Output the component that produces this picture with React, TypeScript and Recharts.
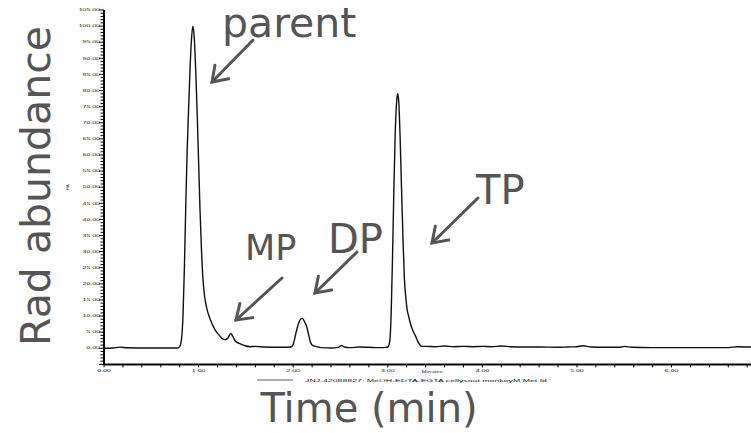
import { LineChart, Line, XAxis, YAxis } from 'recharts'

// retention time (min) and radio signal (% of max)
const times = [
  0, 0.1, 0.17, 0.24, 0.35, 0.5, 0.65, 0.78,
  0.8, 0.82, 0.835, 0.85, 0.865, 0.88, 0.895, 0.91, 0.925, 0.94, 0.955, 0.97, 0.985,
  1.0, 1.015, 1.03, 1.045, 1.06, 1.075, 1.09, 1.11, 1.13, 1.16, 1.19, 1.22, 1.25, 1.28,
  1.31, 1.34, 1.36, 1.39, 1.43, 1.48, 1.54, 1.6, 1.7, 1.8, 1.9, 1.976,
  2.0, 2.028, 2.06, 2.08, 2.098, 2.12, 2.14, 2.16, 2.18, 2.2, 2.25, 2.3, 2.4, 2.48, 2.51,
  2.54, 2.6, 2.7, 2.8, 2.9, 2.98,
  3.0, 3.02, 3.035, 3.05, 3.065, 3.08, 3.095, 3.105, 3.115, 3.13, 3.145, 3.16, 3.175,
  3.19, 3.205, 3.22, 3.24, 3.265, 3.29, 3.32, 3.36, 3.4, 3.5, 3.6, 3.7, 3.8, 3.9,
  4.0, 4.1, 4.2, 4.3, 4.4, 4.6, 4.8, 4.9, 5.0, 5.06, 5.15, 5.3, 5.45, 5.5, 5.58,
  5.8, 6.0, 6.3, 6.6, 6.7, 6.84,
]
const signal = [
  0, 0.1, 0.35, 0.15, 0.1, 0.1, 0.1, 0.1,
  0.5, 3, 10, 25, 45, 62, 75, 87, 96, 100, 96, 86, 73,
  58, 43, 31, 22, 17, 14, 12, 10, 8.5, 6.5, 5, 4, 3, 2.7,
  3.2, 4.6, 3.8, 2.2, 1.5, 0.9, 0.5, 0.6, 0.4, 0.3, 0.3, 0.4,
  1.2, 4.6, 8, 9.1, 9.3, 8.2, 7, 4.6, 2.2, 1, 0.5, 0.2, 0.1, 0.3, 0.9,
  0.4, 0.2, 0.4, 0.3, 0.2, 0.3,
  0.4, 2, 10, 28, 50, 68, 77, 79, 77, 66, 50, 35, 22,
  16, 12, 10, 7.6, 5.5, 4, 2, 0.6, 0.6, 0.5, 0.7, 0.5, 0.6, 0.5,
  0.6, 0.5, 0.7, 0.5, 0.4, 0.4, 0.3, 0.4, 0.5, 0.8, 0.4, 0.3, 0.3, 0.6, 0.3,
  0.2, 0.2, 0.2, 0.2, 0.5, 0.4,
]

const xTicks = Array.from({ length: 35 }, (_, i) => Math.round(i * 2) / 10)
const yTicks = Array.from({ length: 111 }, (_, i) => i - 5)

const peakLabels = [
  { text: 'parent', x: 222, y: 37, size: 41 },
  { text: 'MP', x: 245, y: 260, size: 35 },
  { text: 'DP', x: 328, y: 253, size: 40 },
  { text: 'TP', x: 476, y: 204, size: 40 },
]
const arrows = [
  { x1: 253, y1: 40, x2: 212, y2: 82 },
  { x1: 282, y1: 278, x2: 236, y2: 320 },
  { x1: 357, y1: 252, x2: 315, y2: 293 },
  { x1: 478, y1: 198, x2: 432, y2: 243 },
]

const data = times.map((t, i) => ({ t, v: signal[i] }))

const W = 751
const H = 433
const AXIS_X = 104
const AXIS_Y = 364.4
const GRAY = '#555555'

function YTick(props: any) {
  const { y, payload } = props
  const v = payload.value as number
  const major = v % 5 === 0
  return (
    <g>
      <line x1={AXIS_X - (major ? 5 : 3.5)} x2={AXIS_X} y1={y} y2={y} stroke="#000" strokeWidth={1} />
      {major && v >= 0 && (
        <text
          transform={`translate(${AXIS_X - 4}, ${y + 1.2}) scale(1, 0.55)`}
          textAnchor="end"
          fontSize={7}
          fontFamily="Liberation Sans"
          fill="#222"
        >
          {v.toFixed(2)}
        </text>
      )}
    </g>
  )
}

function XTick(props: any) {
  const { x, payload } = props
  const v = payload.value as number
  const major = Math.abs(v - Math.round(v)) < 0.001
  return (
    <g>
      <line x1={x} x2={x} y1={AXIS_Y} y2={AXIS_Y + 3} stroke="#000" strokeWidth={1} />
      {major && (
        <text
          transform={`translate(${x}, ${AXIS_Y + 7.5}) scale(1, 0.55)`}
          textAnchor="middle"
          fontSize={7}
          fontFamily="Liberation Sans"
          fill="#222"
        >
          {v.toFixed(2)}
        </text>
      )}
    </g>
  )
}

function arrowHead(a: { x1: number; y1: number; x2: number; y2: number }) {
  const ang = Math.atan2(a.y1 - a.y2, a.x1 - a.x2)
  const len = 17
  const spread = 0.6
  const p1 = [a.x2 + len * Math.cos(ang - spread), a.y2 + len * Math.sin(ang - spread)]
  const p2 = [a.x2 + len * Math.cos(ang + spread), a.y2 + len * Math.sin(ang + spread)]
  return `M${p1[0]},${p1[1]} L${a.x2},${a.y2} L${p2[0]},${p2[1]}`
}

export default function App() {
  return (
    <div style={{ position: 'absolute', left: 0, top: 0, width: W, height: H, background: '#fff' }}>
      <LineChart width={W} height={H} data={data} margin={{ top: 10, right: 0, bottom: 48.6, left: 0 }}>
        <XAxis
          dataKey="t"
          type="number"
          domain={[0, 6.84]}
          ticks={xTicks}
          interval={0}
          height={20}
          tickLine={false}
          tickSize={0}
          axisLine={{ stroke: '#000', strokeWidth: 2 }}
          tick={<XTick />}
        />
        <YAxis
          type="number"
          domain={[-5, 105]}
          ticks={yTicks}
          interval={0}
          width={AXIS_X}
          tickLine={false}
          tickSize={0}
          axisLine={{ stroke: '#000', strokeWidth: 2 }}
          tick={<YTick />}
        />
        <Line
          type="monotone"
          dataKey="v"
          stroke="#111"
          strokeWidth={1.4}
          dot={false}
          isAnimationActive={false}
        />
      </LineChart>
      <svg width={W} height={H} style={{ position: 'absolute', left: 0, top: 0, pointerEvents: 'none' }}>
        <text
          transform="translate(50, 186) rotate(-90)"
          textAnchor="middle"
          fontFamily="DejaVu Sans"
          fontSize={41}
          fill={GRAY}
        >
          Rad abundance
        </text>
        <text x={369} y={422} textAnchor="middle" fontFamily="DejaVu Sans" fontSize={40} fill={GRAY}>
          Time (min)
        </text>
        {peakLabels.map((p) => (
          <text key={p.text} x={p.x} y={p.y} fontFamily="DejaVu Sans" fontSize={p.size} fill={GRAY}>
            {p.text}
          </text>
        ))}
        {arrows.map((a, i) => (
          <g key={i} stroke={GRAY} strokeWidth={3} fill="none" strokeLinecap="round">
            <line x1={a.x1} y1={a.y1} x2={a.x2} y2={a.y2} />
            <path d={arrowHead(a)} strokeLinejoin="miter" />
          </g>
        ))}
        <text transform="translate(69, 187) rotate(-90)" textAnchor="middle" fontSize={4} fontFamily="Liberation Sans" fill="#333">
          RA
        </text>
        <text transform="translate(432, 373) scale(1, 0.6)" textAnchor="middle" fontSize={6} fontFamily="Liberation Sans" fill="#333">
          Minutes
        </text>
        <line x1={257} x2={293} y1={380} y2={380} stroke="#333" strokeWidth={0.8} />
        <text
          transform="translate(305, 382) scale(1, 0.6)"
          fontSize={7}
          fontFamily="Liberation Sans"
          fill="#222"
          textLength={242}
          lengthAdjust="spacingAndGlyphs"
        >
          JNJ-42088827; MeOH-EDTA-EGTA cellysaat monkeyM Met Id
        </text>
      </svg>
    </div>
  )
}
